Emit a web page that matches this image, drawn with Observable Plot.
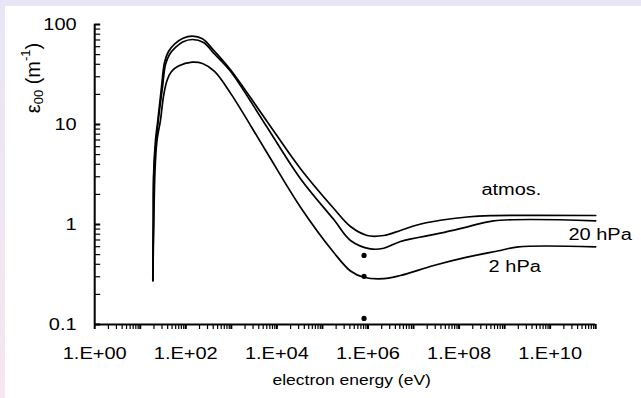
<!DOCTYPE html>
<html><head><meta charset="utf-8">
<script src="https://cdn.jsdelivr.net/npm/d3@7"></script>
<script src="https://cdn.jsdelivr.net/npm/@observablehq/plot@0.6"></script>
<style>
html,body{margin:0;padding:0;}
body{width:641px;height:398px;overflow:hidden;position:relative;background:linear-gradient(to bottom,#e8e5f6,#f6e6ef);}
#panel{position:absolute;left:5px;top:6px;width:636px;height:392px;background:#fff;}
#panel svg{display:block;}
</style></head><body><div id="panel"></div>
<script>
// ---- data ----
const atmosE = [18.9, 19.3, 19.8, 21.6, 24.3, 29.3, 34.1, 41.7, 56.5, 84.7, 140, 232, 412, 958, 5620, 33000, 177500, 413000, 960000, 2.22e6, 5.17e6, 1.2e7, 3.9e7, 1.5e8, 4.89e8, 1e11];
const atmosV = [0.275, 1.0, 3.47, 6.92, 10.96, 23.6, 41.7, 53.7, 63.8, 72.4, 76.4, 71.9, 55.0, 35.2, 11.3, 3.61, 1.445, 0.955, 0.776, 0.776, 0.871, 0.989, 1.102, 1.189, 1.225, 1.23];
const hpa20E = [18.9, 19.4, 20.0, 24.9, 30.8, 35.8, 43.9, 59.4, 85.1, 140, 245, 427, 958, 5620, 33000, 177500, 413000, 1.13e6, 2.22e6, 5.17e6, 3.9e7, 1.53e8, 5.69e8, 1e11];
const hpa20V = [0.275, 1.0, 3.47, 10.96, 23.6, 39.8, 50.1, 58.9, 66.8, 70.8, 66.1, 50.7, 34.1, 9.95, 2.87, 1.12, 0.692, 0.571, 0.579, 0.676, 0.819, 0.946, 1.089, 1.089];
const hpa2E = [18.9, 19.8, 21.1, 23.3, 27.8, 32.4, 38.7, 48.5, 69.1, 138, 233, 427, 958, 5620, 33000, 177500, 413000, 809000, 2.22e6, 5.17e6, 2.78e7, 1.5e8, 8.11e8, 2.01e9, 1e11];
const hpa2V = [0.275, 1.0, 3.47, 6.92, 11.0, 19.1, 27.5, 33.9, 38.5, 42.0, 40.7, 33.9, 20.6, 5.53, 1.49, 0.525, 0.343, 0.297, 0.287, 0.309, 0.389, 0.471, 0.550, 0.598, 0.598];
const dotE = [8.2e5, 8.2e5, 8.2e5];
const dotV = [0.491, 0.303, 0.115];
const seriesNames = ["atmos.", "20 hPa", "2 hPa"];
const labelE = [1.41e9, 1.25e11, 1.67e9];
const labelV = [2.23, 0.795, 0.381];
const xLabelTicks = [1, 1e2, 1e4, 1e6, 1e8, 1e10];
const yLabelTicks = [0.1, 1, 10, 100];
const xTitle = "electron energy (eV)";

// ---- derived tables ----
const seriesE = [atmosE, hpa20E, hpa2E];
const seriesV = [atmosV, hpa20V, hpa2V];
const rows = seriesNames.flatMap((name, s) => seriesE[s].map((e, i) => ({series: name, E: e, V: seriesV[s][i]})));
const dots = dotE.map((e, i) => ({E: e, V: dotV[i]}));
const labels = seriesNames.map((t, i) => ({text: t, E: labelE[i], V: labelV[i]}));
const xMajor = d3.range(0, 12).map(n => Math.pow(10, n));
const xMinor = d3.range(0, 11).flatMap(n => d3.range(2, 10).map(k => k * Math.pow(10, n)));
const yMinor = d3.range(-1, 2).flatMap(n => d3.range(2, 10).map(k => k * Math.pow(10, n)));
const expFmt = d => "1.E+" + String(Math.round(Math.log10(d))).padStart(2, "0");

const chart = Plot.plot({
  width: 636, height: 392,
  marginLeft: 89.2, marginRight: 45.8, marginTop: 18, marginBottom: 74,
  x: {type: "log", domain: [1, 1e11]},
  y: {type: "log", domain: [0.1, 100]},
  style: {fontFamily: "Arial, 'Liberation Sans', sans-serif", fontSize: "16px", color: "#000", background: "transparent"},
  marks: [
    Plot.axisX(xMinor, {tickSize: 5, tickFormat: () => "", strokeWidth: 1.2, label: null}),
    Plot.axisX(xMajor, {tickSize: 5, tickFormat: () => "", strokeWidth: 2, label: null}),
    Plot.axisX(xLabelTicks, {tickSize: 0, tickPadding: 23, tickFormat: expFmt, fontSize: 16, label: null}),
    Plot.axisY(yMinor, {tickSize: 6, dx: 6, tickFormat: () => "", strokeWidth: 1.2, label: null}),
    Plot.axisY(yLabelTicks, {tickSize: 6, dx: 6, tickFormat: () => "", strokeWidth: 2, label: null}),
    Plot.axisY(yLabelTicks, {tickSize: 0, tickPadding: 18, tickFormat: d => String(d), fontSize: 16, label: null}),
    Plot.ruleX([1], {strokeWidth: 2, stroke: "#000"}),
    Plot.ruleY([0.1], {strokeWidth: 2, stroke: "#000"}),
    Plot.line(rows, {x: "E", y: "V", z: "series", curve: "catmull-rom", stroke: "#000", strokeWidth: 1.7}),
    Plot.dot(dots, {x: "E", y: "V", r: 2.6, fill: "#000", stroke: null}),
    Plot.text(labels, {x: "E", y: "V", text: "text", fontSize: 16, fill: "#000"})
  ]
});
document.getElementById("panel").appendChild(chart);

const svg = d3.select(chart);
// x title
svg.append("text").attr("class", "xt")
  .attr("x", 346.7).attr("y", 375.7)
  .attr("text-anchor", "middle").attr("dominant-baseline", "middle")
  .attr("font-size", 14).attr("fill", "#000").text(xTitle);
// y title with subscript / superscript
const yt = svg.append("text").attr("class", "yt")
  .attr("transform", "translate(30,72) rotate(-90)")
  .attr("text-anchor", "middle").attr("dominant-baseline", "middle")
  .attr("font-size", 20).attr("fill", "#000");
yt.append("tspan").text("ε");
yt.append("tspan").attr("font-size", 13).attr("dy", 5).text("00");
yt.append("tspan").attr("dy", -5).text(" (m");
yt.append("tspan").attr("font-size", 13).attr("dy", -8).text("-1");
yt.append("tspan").attr("dy", 8).text(")");

// horizontally widen the text, as in the reference
chart.querySelectorAll("text").forEach(el => {
  if (el.classList.contains("yt")) return;
  if (!el.textContent) return;
  const b = el.getBBox();
  const anchor = getComputedStyle(el).textAnchor;
  const px = anchor === "end" ? b.x + b.width : anchor === "middle" ? b.x + b.width / 2 : b.x;
  const s = 1.25;
  const prev = el.getAttribute("transform") || "";
  el.setAttribute("transform", `${prev} translate(${px},0) scale(${s},1) translate(${-px},0)`);
});
</script></body></html>
